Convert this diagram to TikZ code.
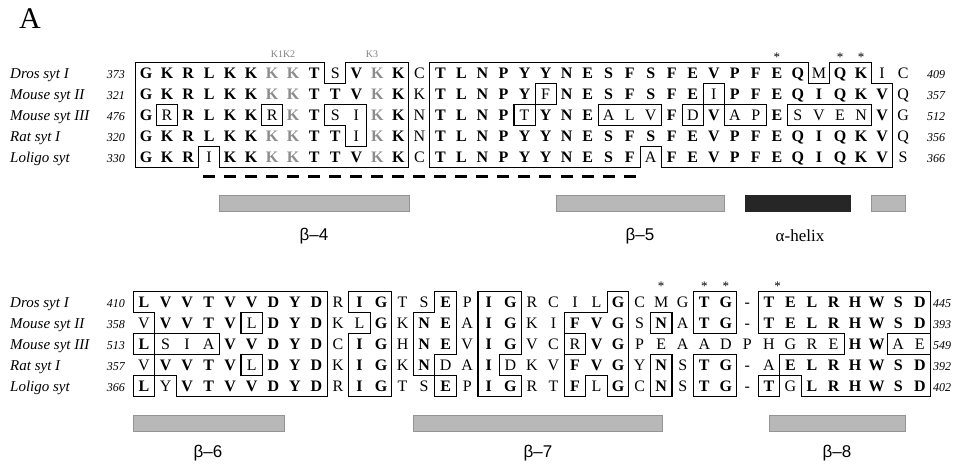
\documentclass[tikz,border=0pt]{standalone}
\usepackage{fontspec}
\setmainfont{Liberation Serif}
\newfontfamily\lsans{Liberation Sans}

\newcommand\defrow[3]{\expandafter\def\csname #1R#2\endcsname{{#3}}}
\newcommand\defseq[3]{\expandafter\def\csname #1S#2\endcsname{#3}}

% ---- top block: region ids (0 = no box, <50 consensus box, >50 boxed variant)
\defrow{T}{1}{1,1,1,1,1,1,1,1,1,0,1,1,1,0,5,5,5,5,5,5,5,5,5,5,5,5,5,5,5,5,5,5,0,5,5,0,0}
\defrow{T}{2}{1,1,1,1,1,1,1,1,1,1,1,1,1,0,5,5,5,5,5,54,5,5,5,5,5,5,5,57,5,5,5,5,5,5,5,5,0}
\defrow{T}{3}{1,51,1,1,1,1,52,1,1,53,53,1,1,0,5,5,5,5,55,5,5,5,56,56,56,5,58,5,59,59,5,60,60,60,60,5,0}
\defrow{T}{4}{1,1,1,1,1,1,1,1,1,1,53,1,1,0,5,5,5,5,5,5,5,5,5,5,5,5,5,5,5,5,5,5,5,5,5,5,0}
\defrow{T}{5}{1,1,1,0,1,1,1,1,1,1,1,1,1,0,5,5,5,5,5,5,5,5,5,5,0,5,5,5,5,5,5,5,5,5,5,5,0}
\defseq{T}{1}{G,K,R,L,K,K,K,K,T,S,V,K,K,C,T,L,N,P,Y,Y,N,E,S,F,S,F,E,V,P,F,E,Q,M,Q,K,I,C}
\defseq{T}{2}{G,K,R,L,K,K,K,K,T,T,V,K,K,K,T,L,N,P,Y,F,N,E,S,F,S,F,E,I,P,F,E,Q,I,Q,K,V,Q}
\defseq{T}{3}{G,R,R,L,K,K,R,K,T,S,I,K,K,N,T,L,N,P,T,Y,N,E,A,L,V,F,D,V,A,P,E,S,V,E,N,V,G}
\defseq{T}{4}{G,K,R,L,K,K,K,K,T,T,I,K,K,N,T,L,N,P,Y,Y,N,E,S,F,S,F,E,V,P,F,E,Q,I,Q,K,V,Q}
\defseq{T}{5}{G,K,R,I,K,K,K,K,T,T,V,K,K,C,T,L,N,P,Y,Y,N,E,S,F,A,F,E,V,P,F,E,Q,I,Q,K,V,S}

% ---- bottom block
\defrow{B}{1}{1,1,1,1,1,1,1,1,1,0,7,7,0,0,8,0,10,10,0,0,0,0,11,0,0,0,15,15,0,17,17,17,17,17,17,17,17}
\defrow{B}{2}{0,1,1,1,1,52,1,1,1,0,0,7,0,8,8,0,10,10,0,0,11,11,11,0,13,0,15,15,0,17,17,17,17,17,17,17,17}
\defrow{B}{3}{2,51,51,51,1,1,1,1,1,0,7,7,0,8,8,0,10,10,0,0,54,11,11,0,0,0,0,0,0,0,0,0,0,17,17,55,55}
\defrow{B}{4}{0,1,1,1,1,53,1,1,1,0,7,7,0,8,0,0,10,0,0,0,11,11,11,0,14,0,16,16,0,0,17,17,17,17,17,17,17}
\defrow{B}{5}{3,0,1,1,1,1,1,1,1,0,7,7,0,0,9,0,10,10,0,0,11,0,11,0,14,0,16,16,0,19,0,17,17,17,17,17,17}
\defseq{B}{1}{L,V,V,T,V,V,D,Y,D,R,I,G,T,S,E,P,I,G,R,C,I,L,G,C,M,G,T,G,-,T,E,L,R,H,W,S,D}
\defseq{B}{2}{V,V,V,T,V,L,D,Y,D,K,L,G,K,N,E,A,I,G,K,I,F,V,G,S,N,A,T,G,-,T,E,L,R,H,W,S,D}
\defseq{B}{3}{L,S,I,A,V,V,D,Y,D,C,I,G,H,N,E,V,I,G,V,C,R,V,G,P,E,A,A,D,P,H,G,R,E,H,W,A,E}
\defseq{B}{4}{V,V,V,T,V,L,D,Y,D,K,I,G,K,N,D,A,I,D,K,V,F,V,G,Y,N,S,T,G,-,A,E,L,R,H,W,S,D}
\defseq{B}{5}{L,Y,V,T,V,V,D,Y,D,R,I,G,T,S,E,P,I,G,R,T,F,L,G,C,N,S,T,G,-,T,G,L,R,H,W,S,D}

% #1 prefix, #2 x of col 1, #3 column step, #4 y of row 1, #5 row step
\newcommand\drawboxes[5]{%
  \foreach \r in {1,...,5}{%
    \edef\cur{\csname #1R\r\endcsname}%
    \ifnum\r<5 \edef\nxt{\csname #1R\the\numexpr\r+1\relax\endcsname}\fi
    \foreach \c in {1,...,37}{%
      \pgfmathtruncatemacro\idA{\cur[\c-1]}%
      \pgfmathsetmacro\xl{#2+(\c-1.5)*#3}%
      \pgfmathsetmacro\xr{#2+(\c-0.5)*#3}%
      \pgfmathsetmacro\yt{#4+(\r-1.5)*#5}%
      \pgfmathsetmacro\yb{#4+(\r-0.5)*#5}%
      \ifnum\c=1 \ifnum\idA>0 \draw[boxline] (\xl,\yt) -- (\xl,\yb);\fi\fi
      \ifnum\r=1 \ifnum\idA>0 \draw[boxline] (\xl,\yt) -- (\xr,\yt);\fi\fi
      \ifnum\c<37 \pgfmathtruncatemacro\idR{\cur[\c]}\else\def\idR{0}\fi
      \ifnum\idA=\idR\else\draw[boxline] (\xr,\yt) -- (\xr,\yb);\fi
      \ifnum\r<5 \pgfmathtruncatemacro\idB{\nxt[\c-1]}\else\def\idB{0}\fi
      \ifnum\idA=\idB\else\draw[boxline] (\xl,\yb) -- (\xr,\yb);\fi
    }%
  }%
}
% #6 = 1 to grey the K1 K2 K3 columns
\newcommand\drawletters[6]{%
  \foreach \r in {1,...,5}{%
    \edef\cur{\csname #1R\r\endcsname}%
    \edef\seq{\csname #1S\r\endcsname}%
    \foreach \L [count=\c] in \seq {%
      \pgfmathtruncatemacro\idA{\cur[\c-1]}%
      \pgfmathsetmacro\xx{#2+(\c-1)*#3}%
      \pgfmathsetmacro\yy{#4+(\r-1)*#5+5.5}%
      \pgfmathtruncatemacro\isgray{(#6==1)&&((\c==8)||(\c==12)||((\c==7)&&(\r!=3)))}%
      \def\sty{res}%
      \ifnum\idA>0 \ifnum\idA<50 \def\sty{resb}\fi\fi
      \ifnum\isgray=1 \def\sty{resg}\fi
      \node[\sty] (#1-\r-\c) at (\xx,\yy) {\L};
    }%
  }%
}

\def\xT{146}\def\sT{21.03}\def\yT{73}
\def\xB{144}\def\sB{21.55}\def\yB{302}
\def\rh{21}

\begin{document}
\begin{tikzpicture}[x=1pt,y=-1pt,
  boxline/.style={line width=1.1pt, line cap=rect},
  res/.style={font=\fontsize{16}{16}\selectfont, inner sep=0pt, anchor=base},
  resb/.style={res, font=\fontsize{16}{16}\selectfont\bfseries},
  resg/.style={res, font=\fontsize{16}{16}\selectfont\bfseries, text=black!45},
  lab/.style={font=\fontsize{15}{15}\selectfont\itshape, inner sep=0pt, anchor=base west},
  num/.style={font=\fontsize{12}{12}\selectfont\itshape, inner sep=0pt},
  bar/.style={fill=black!28, draw=black!42, line width=0.6pt},
  helix/.style={fill=black!85, draw=black!85, line width=0.6pt},
  blab/.style={font=\lsans\fontsize{17}{17}\selectfont, inner sep=0pt},
  hlab/.style={font=\fontsize{17}{17}\selectfont, inner sep=0pt},
  star/.style={font=\fontsize{13}{13}\selectfont, inner sep=0pt},
  klab/.style={font=\fontsize{10}{10}\selectfont, inner sep=0pt, text=black!50},
  dashline/.style={line width=3pt, dash pattern=on 12pt off 9.03pt}
]
\useasboundingbox (0,0) rectangle (953,468);

\node[font=\fontsize{30}{30}\selectfont, inner sep=0pt] (panel) at (30,19) {A};

% ---------------- top block
\node[klab] (k12) at (283,54) {K1K2};
\node[klab] (k3) at (372,54) {K3};
\foreach \c [count=\i] in {31,34,35}{
  \node[star] (ts\i) at ({\xT+(\c-1)*\sT},57) {*};
}
\drawboxes{T}{\xT}{\sT}{\yT}{\rh}
\drawletters{T}{\xT}{\sT}{\yT}{\rh}{1}
\foreach \r/\nm/\a/\b in {1/Dros syt I/373/409, 2/Mouse syt II/321/357,
   3/Mouse syt III/476/512, 4/Rat syt I/320/356, 5/Loligo syt/330/366}{
  \pgfmathsetmacro\yy{\yT+(\r-1)*\rh+5.2}
  \node[lab] (tl\r) at (10,\yy) {\nm};
  \node[num, anchor=base east] (tn\r) at (125,\yy) {\a};
  \node[num, anchor=base west] (te\r) at (927,\yy) {\b};
}
\coordinate (dA) at (203,176);
\coordinate (dB) at (637,176);
\draw[dashline] (dA) -- (dB);

\fill[bar] (219.6,195) rectangle (408.9,211);
\fill[bar] (556.1,195) rectangle (724.4,211);
\fill[helix] (745.4,195) rectangle (850.5,211);
\fill[bar] (871.6,195) rectangle (905,211);
\node[blab] (b4) at (314,236) {β–4};
\node[blab] (b5) at (640,236) {β–5};
\node[hlab] (ah) at (800,236) {α-helix};

% ---------------- bottom block
\foreach \c [count=\i] in {25,27,28,30.4}{
  \node[star] (bs\i) at ({\xB+(\c-1)*\sB},286) {*};
}
\drawboxes{B}{\xB}{\sB}{\yB}{\rh}
\drawletters{B}{\xB}{\sB}{\yB}{\rh}{0}
\foreach \r/\nm/\a/\b in {1/Dros syt I/410/445, 2/Mouse syt II/358/393,
   3/Mouse syt III/513/549, 4/Rat syt I/357/392, 5/Loligo syt/366/402}{
  \pgfmathsetmacro\yy{\yB+(\r-1)*\rh+5.2}
  \node[lab] (bl\r) at (10,\yy) {\nm};
  \node[num, anchor=base east] (bn\r) at (125,\yy) {\a};
  \node[num, anchor=base west] (be\r) at (933,\yy) {\b};
}
\fill[bar] (133.2,415) rectangle (284.1,431);
\fill[bar] (413.4,415) rectangle (662,431);
\fill[bar] (769,415) rectangle (905,431);
\node[blab] (b6) at (208,453) {β–6};
\node[blab] (b7) at (538,453) {β–7};
\node[blab] (b8) at (837,453) {β–8};
\end{tikzpicture}
\end{document}
